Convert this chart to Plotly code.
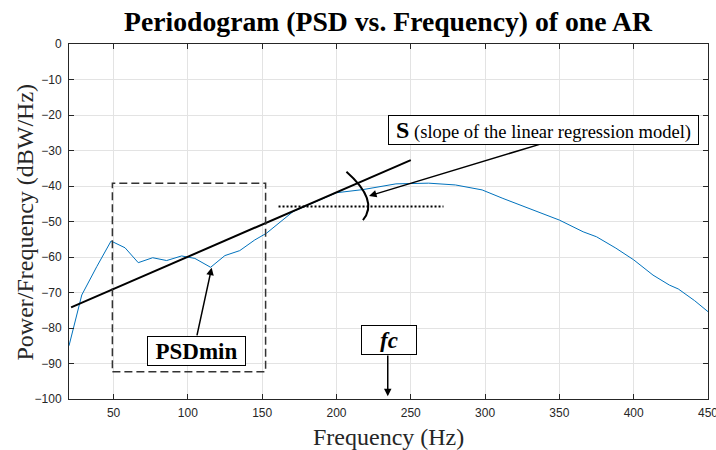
import plotly.graph_objects as go

# ---------------- data ----------------
freq_hz = [20, 28.6, 38.7, 48.3, 57.7, 66.6, 76.3, 85.7, 95.8, 104.7, 115.3, 124.9,
           134.9, 145, 152.9, 162, 170.8, 200, 218, 240, 262, 280, 298, 312, 330,
           350, 366, 375, 388, 400, 413, 424, 430, 441, 450]
psd_db = [-85, -70.7, -62.7, -55.5, -57.4, -61.6, -60.2, -61, -59.7, -60.4, -62.9, -59.6,
          -58.2, -55.2, -53.3, -50.2, -47.2, -41.9, -41.0, -39.4, -39.2, -39.7, -41.1, -43.5, -46.3,
          -49.6, -52.9, -54.3, -57.5, -60.8, -65.1, -67.9, -69.0, -72.3, -75.4]

reg_x = [21.4, 250]
reg_y = [-74.2, -32.7]

level_x = [161, 272]
level_y = [-45.8, -45.8]

x_ticks = [50, 100, 150, 200, 250, 300, 350, 400, 450]
y_ticks = [0, -10, -20, -30, -40, -50, -60, -70, -80, -90, -100]

SERIF = "Liberation Serif, Times New Roman, serif"
SANS = "Liberation Sans, Arial, sans-serif"
AXC = "#262626"

fig = go.Figure()
fig.add_trace(go.Scatter(x=freq_hz, y=psd_db, mode="lines",
                         line=dict(color="#0072BD", width=1), showlegend=False))
fig.add_trace(go.Scatter(x=reg_x, y=reg_y, mode="lines",
                         line=dict(color="black", width=2), showlegend=False))
fig.add_trace(go.Scatter(x=level_x, y=level_y, mode="lines",
                         line=dict(color="black", width=2, dash="2px,2px"), showlegend=False))

shapes = [
    dict(type="rect", xref="x", yref="y", x0=49.2, x1=152.3, y0=-92.3, y1=-39.2,
         line=dict(color="#333333", width=1.5, dash="8px,4px")),
    dict(type="path", xref="x", yref="y",
         path="M 206.7,-36.0 Q 228.8,-44.15 217.8,-49.6",
         line=dict(color="black", width=2)),
]

annotations = []
# arrows
for tip, tail in [((221.9, -42.8), (338.8, -28.0)),
                  ((116.0, -63.0), (105.9, -82.5)),
                  ((234.5, -99.2), (234.5, -87.3))]:
    annotations.append(dict(x=tip[0], y=tip[1], ax=tail[0], ay=tail[1], xref="x", yref="y",
                            axref="x", ayref="y", text="", showarrow=True, arrowhead=2,
                            arrowsize=1, arrowwidth=1.5, arrowcolor="black", standoff=0))
# boxes
annotations.append(dict(x=339.2, y=-24.2, xref="x", yref="y", showarrow=False,
                        text="<b><span style='font-size:24px'>S</span></b> (slope of the linear regression model)",
                        font=dict(family=SERIF, size=18.5, color="black"),
                        bgcolor="white", bordercolor="black", borderwidth=1, borderpad=2,
                        width=305, height=24))
annotations.append(dict(x=105.5, y=-86.6, xref="x", yref="y", showarrow=False,
                        text="<b>PSDmin</b>", font=dict(family=SERIF, size=23, color="black"),
                        bgcolor="white", bordercolor="black", borderwidth=1, borderpad=2,
                        width=93, height=24))
annotations.append(dict(x=235.5, y=-83.4, xref="x", yref="y", showarrow=False,
                        text="<b><i>fc</i></b>", font=dict(family=SERIF, size=23, color="black"),
                        bgcolor="white", bordercolor="black", borderwidth=1, borderpad=2,
                        width=50, height=24))
# axis titles
annotations.append(dict(x=(24 - 69) / 639, y=(399 - 222.5) / 355, xref="paper", yref="paper",
                        xanchor="center", yanchor="middle",
                        text="Power/Frequency (dBW/Hz)", textangle=-90, showarrow=False,
                        font=dict(family=SERIF, size=24, color=AXC)))
annotations.append(dict(x=(388 - 69) / 639, y=(399 - 437) / 355, xref="paper", yref="paper",
                        xanchor="center", yanchor="middle",
                        text="Frequency (Hz)", showarrow=False,
                        font=dict(family=SERIF, size=24, color=AXC)))

fig.update_layout(
    width=716, height=450,
    margin=dict(l=69, r=8, t=44, b=51),
    paper_bgcolor="white", plot_bgcolor="white",
    title=dict(text="<b>Periodogram (PSD vs. Frequency) of one AR</b>",
               x=388 / 716, xanchor="center", y=1 - 21 / 450, yanchor="middle",
               yref="container", font=dict(family=SERIF, size=27.7, color="black")),
    shapes=shapes, annotations=annotations,
    xaxis=dict(range=[20, 450.01], tickvals=x_ticks, showgrid=True, gridcolor="#e3e3e3",
               zeroline=False, showline=True, linecolor=AXC, linewidth=1, mirror="ticks",
               ticks="inside", ticklen=5, tickcolor=AXC, ticklabelstandoff=3,
               ticklabeloverflow="allow", automargin=False,
               tickfont=dict(family=SANS, size=12, color=AXC)),
    yaxis=dict(range=[-100, 0], tickvals=y_ticks, showgrid=True, gridcolor="#e3e3e3",
               zeroline=False, showline=True, linecolor=AXC, linewidth=1, mirror="ticks",
               ticks="inside", ticklen=5, tickcolor=AXC, ticklabelstandoff=4,
               tickfont=dict(family=SANS, size=12, color=AXC)),
)

fig.write_html("out.html", config={"displayModeBar": False},
               post_script="document.body.style.margin='0';")
